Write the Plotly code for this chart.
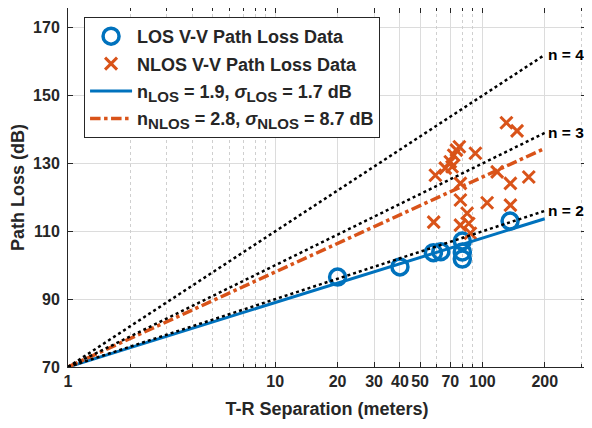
import plotly.graph_objects as go

# ---- data ----
los_d = [20, 40, 58, 63, 80, 80, 80, 136]
los_pl = [96.5, 99.5, 103.7, 104.0, 107.1, 103.9, 101.8, 113.0]

nlos_d = [130.6, 147, 77.4, 92.5, 72.7, 70, 71.4, 66.2, 74.9, 59.3, 78.3, 117.8, 136.5,
          167.4, 78.3, 105.4, 136.5, 84.4, 58.2, 78.3, 85.9, 87.5]
nlos_pl = [142.0, 139.6, 134.9, 133.0, 132.4, 130.5, 129.0, 128.6, 133.9, 126.5, 124.1,
           127.5, 124.1, 126.0, 119.2, 118.4, 117.7, 115.3, 112.7, 111.8, 112.3, 109.4]

line_d = [1, 200]
los_fit = [70, 113.7]
nlos_fit = [70, 134.4]
ref_n = [2, 3, 4]
ref_lines = {2: [70, 116.0], 3: [70, 139.0], 4: [70, 162.0]}

x_ticks = [1, 10, 20, 30, 40, 50, 70, 100, 200]
x_minor = [2, 3, 4, 5, 6, 7, 8, 9, 60, 80, 90, 300]
y_ticks = [70, 90, 110, 130, 150, 170]

BLUE = "#0072BD"
ORANGE = "#D95319"
AX = "#262626"
FONT = "Liberation Sans, Arial, Helvetica, sans-serif"


def sub(t):
    return f'<sub><span style="font-size:15px">{t}</span></sub>'


fig = go.Figure()

fig.add_trace(go.Scatter(x=los_d, y=los_pl, mode="markers", name="<b>LOS V-V Path Loss Data</b>",
                         legendgroup="a",
                         marker=dict(symbol="circle-open", size=16, color=BLUE, line=dict(width=3.5, color=BLUE))))
fig.add_trace(go.Scatter(x=nlos_d, y=nlos_pl, mode="markers", name="<b>NLOS V-V Path Loss Data</b>",
                         legendgroup="b",
                         marker=dict(symbol="x-thin-open", size=12, color=ORANGE, line=dict(width=3, color=ORANGE))))
fig.add_trace(go.Scatter(x=line_d, y=los_fit, mode="lines", legendgroup="c",
                         name=f"<b>n{sub('LOS')} = 1.9, <i>σ</i>{sub('LOS')} = 1.7 dB</b>",
                         line=dict(color=BLUE, width=3)))
fig.add_trace(go.Scatter(x=line_d, y=nlos_fit, mode="lines", legendgroup="d",
                         name=f"<b>n{sub('NLOS')} = 2.8, <i>σ</i>{sub('NLOS')} = 8.7 dB</b>",
                         line=dict(color=ORANGE, width=3.5, dash="dashdot")))
for n in ref_n:
    fig.add_trace(go.Scatter(x=line_d, y=ref_lines[n], mode="lines", showlegend=False,
                             line=dict(color="black", width=2.5, dash="dot")))
    fig.add_annotation(x=2.301, y=ref_lines[n][1], text=f"<b>n = {n}</b>", showarrow=False,
                       xanchor="left", yanchor="middle", xshift=1, yshift=0,
                       font=dict(family=FONT, size=15.5, color="black"))

# invisible trace on the minor-grid overlay axis
fig.add_trace(go.Scatter(x=[1, 200], y=[70, 70], xaxis="x2", mode="markers",
                         marker=dict(opacity=0), showlegend=False, hoverinfo="skip"))

XR = [0, 2.5]
fig.update_layout(
    width=584, height=420,
    margin=dict(l=60, r=6, t=0, b=61),
    paper_bgcolor="white", plot_bgcolor="white",
    font=dict(family=FONT, color=AX),
    xaxis=dict(type="log", range=XR, tickvals=x_ticks, ticktext=[f"<b>{v}</b>" for v in x_ticks],
               showgrid=True, gridcolor="#dcdcdc", gridwidth=1, automargin=False,
               showline=True, linecolor=AX, linewidth=1, mirror="ticks",
               ticks="inside", ticklen=5, tickcolor=AX, tickfont=dict(size=16, color=AX),
               title=dict(text="<b>T-R Separation (meters)</b>", font=dict(size=18, color=AX), standoff=13),
               zeroline=False),
    xaxis2=dict(type="log", range=XR, overlaying="x", anchor="y", side="bottom",
                tickvals=x_minor, showticklabels=False, showgrid=True, gridcolor="#cfcfcf",
                griddash="dot", gridwidth=1, ticks="inside", ticklen=3, tickcolor=AX,
                showline=False, mirror="ticks", zeroline=False, automargin=False),
    yaxis=dict(range=[70, 175.8], tickvals=y_ticks, ticktext=[f"<b>{v}</b>" for v in y_ticks],
               showgrid=True, gridcolor="#dcdcdc", gridwidth=1, automargin=False,
               showline=True, linecolor=AX, linewidth=1, mirror="ticks",
               ticks="inside", ticklen=5, tickcolor=AX, tickfont=dict(size=16, color=AX),
               ticklabelstandoff=4,
               title=dict(text="<b>Path Loss (dB)</b>", font=dict(size=18, color=AX), standoff=12),
               zeroline=False),
    legend=dict(x=0.031, y=0.975, xanchor="left", yanchor="top", bgcolor="white",
                bordercolor=AX, borderwidth=1, font=dict(size=18, color=AX, family=FONT),
                tracegroupgap=1, itemwidth=42),
    showlegend=True,
)

fig.write_html("out.html")
